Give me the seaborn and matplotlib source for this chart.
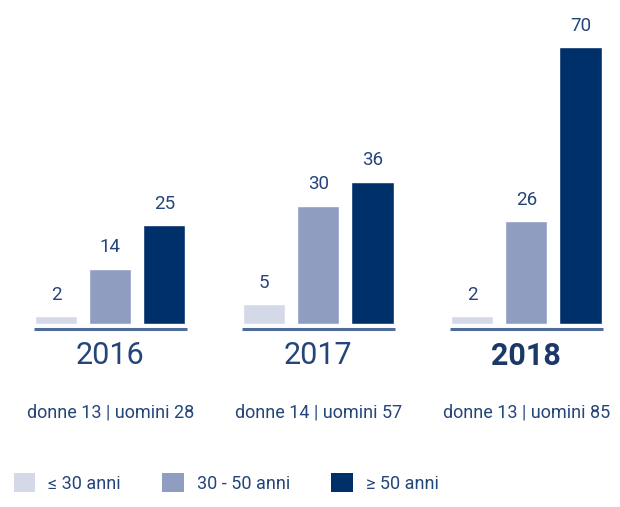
import pandas as pd
import matplotlib.pyplot as plt
import seaborn as sns
from matplotlib.patches import Patch

# Data
years = ["2016", "2017", "2018"]
age_groups = ["≤ 30 anni", "30 - 50 anni", "≥ 50 anni"]
under_30 = [2, 5, 2]
from_30_to_50 = [14, 30, 26]
over_50 = [25, 36, 70]
gender_notes = ["donne 13 | uomini 28", "donne 14 | uomini 57", "donne 13 | uomini 85"]

colors = ["#d3d9e6", "#8f9dc0", "#00306a"]
text_color = "#24457a"

df = pd.DataFrame({
    "Anno": years * 3,
    "Età": [g for g in age_groups for _ in years],
    "Valore": under_30 + from_30_to_50 + over_50,
})

sns.set_style("white")
plt.rcParams["font.family"] = ["Roboto", "DejaVu Sans"]

fig = plt.figure(figsize=(6.2, 5.07), dpi=100)
ax = fig.add_axes([0, 0, 1, 1])
sns.barplot(data=df, x="Anno", y="Valore", hue="Età", hue_order=age_groups,
            palette=colors, width=0.78, gap=0.22, saturation=1,
            legend=False, ax=ax)

# px -> data: bars bottom at y=324 px, ~3.95 px per unit
ax.set_xlim(-0.53, 2.45)
ax.set_ylim(-(507 - 324) / 3.95, 324 / 3.95)
ax.axis("off")

for cont in ax.containers:
    ax.bar_label(cont, padding=9, fontsize=13.5, color=text_color)

for i, (yr, note) in enumerate(zip(years, gender_notes)):
    ax.plot([i - 0.365, i + 0.37], [-1.2, -1.2], color="#4f6d98", lw=2.2,
            solid_capstyle="butt")
    ax.text(i, -8.0, yr, ha="center", va="center", fontsize=22,
            color=text_color if i < 2 else "#1b3868",
            fontweight="normal" if i < 2 else "bold")
    ax.text(i, -22.4, note, ha="center", va="center", fontsize=13,
            color=text_color)

handles = [Patch(facecolor=c, edgecolor="none") for c in colors]
fig.legend(handles, age_groups, loc="center left", bbox_to_anchor=(-0.004, 0.047),
           ncol=3, frameon=False, fontsize=13, handlelength=1.2, handleheight=1.2,
           handletextpad=0.7, columnspacing=2.3, labelcolor=text_color)

plt.savefig("out.png", dpi=100)
